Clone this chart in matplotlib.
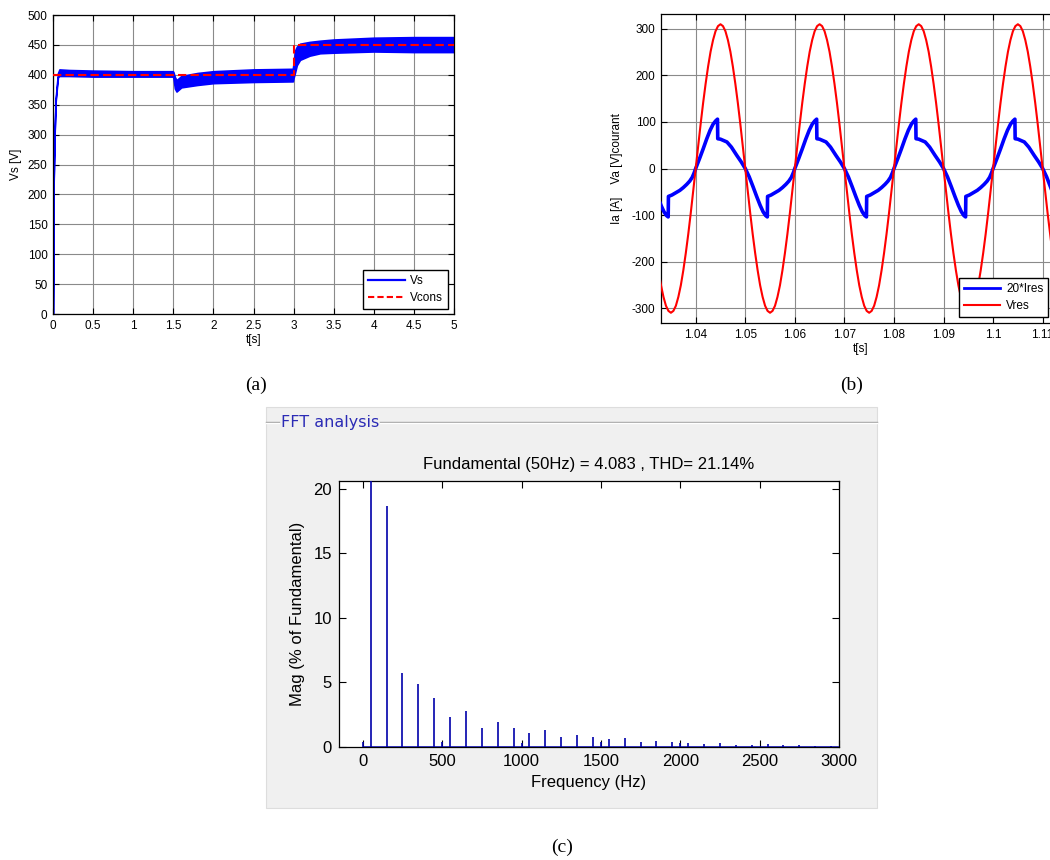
import matplotlib
matplotlib.use('Agg')
import numpy as np
import matplotlib.pyplot as plt
from matplotlib.lines import Line2D
from matplotlib.patches import Rectangle
from matplotlib.ticker import FuncFormatter

plt.rcParams['font.family'] = ['Liberation Sans', 'DejaVu Sans']

# ---- (a) DC bus voltage: envelope of the ripple band
t_vs = [0.0, 0.008, 0.02, 0.033, 0.05, 0.062, 0.08, 0.2, 0.5, 1.0, 1.49, 1.5,
        1.52, 1.54, 1.6, 1.8, 2.0, 2.5, 2.99, 3.0, 3.02, 3.04, 3.08, 3.2,
        3.33, 3.5, 4.0, 4.5, 5.0]
vs_low = [0, 220, 300, 355, 380, 396, 398, 398, 397, 397, 397, 396,
          377, 372, 379, 383, 386, 388, 389, 395, 405, 416, 425, 432,
          436, 437, 439, 438, 438]
vs_high = [0, 225, 305, 360, 386, 403, 409, 408, 407, 406, 406, 405,
           396, 391, 398, 403, 406, 409, 410, 420, 441, 447, 452, 455,
           457, 459, 462, 463, 463]
t_cons = [0, 3, 3, 5]
v_cons = [400, 400, 450, 450]

# ---- (b) one 20 ms period of each waveform (phase in ms from the 1.04 s zero crossing)
vres_phase = np.arange(0, 20, 0.5)
vres_one = [0, 48, 96, 141, 182, 219, 251, 276, 295, 306, 310, 306, 295, 276, 251,
            219, 182, 141, 96, 48, 0, -48, -96, -141, -182, -219, -251, -276, -295,
            -306, -310, -306, -295, -276, -251, -219, -182, -141, -96, -48]
ires_phase = [-5.5, -4.8, -4.0, -3.2, -2.5, -1.8, -1.2, -0.7, -0.3, 0.0, 0.8, 1.5,
              2.2, 2.9, 3.5, 4.0, 4.4, 4.45, 5.0, 6.3, 7.2, 8.3, 9.2, 10.0, 10.8,
              11.6, 12.3, 13.0, 13.6, 14.1, 14.45]
ires_one = [-60, -57, -52, -47, -41, -34, -27, -19, -9, 0, 22, 42,
            63, 82, 95, 102, 106, 64, 63, 57, 46, 28, 14, 0, -18,
            -40, -60, -79, -93, -101, -104]
cycle_starts = [1.02, 1.04, 1.06, 1.08, 1.10]

# ---- (c) FFT spectrum
fft_freq = [0, 50, 150, 250, 350, 450, 500, 550, 650, 750, 850, 950, 1000, 1050,
            1150, 1250, 1350, 1450, 1500, 1550, 1650, 1750, 1850, 1950, 2000,
            2050, 2150, 2250, 2350, 2450, 2550, 2650, 2750, 2850, 2950]
fft_mag = [0.4, 100, 18.7, 5.7, 4.9, 3.8, 0.35, 2.3, 2.8, 1.5, 1.9, 1.5, 0.3, 1.1,
           1.3, 0.8, 0.9, 0.8, 0.36, 0.6, 0.7, 0.4, 0.5, 0.4, 0.33,
           0.3, 0.25, 0.28, 0.18, 0.15, 0.2, 0.15, 0.15, 0.1, 0.1]

W, H = 1050, 860
fig = plt.figure(figsize=(10.5, 8.6), dpi=100)


def box(l, t, r, b):
    return [l / W, 1 - b / H, (r - l) / W, (b - t) / H]


def fx(px):
    return px / W


def fy(py):
    return 1 - py / H


def matlab_style(ax, fs, length=4):
    ax.tick_params(direction='in', top=True, right=True, length=length, width=0.8,
                   labelsize=fs, pad=4)
    for s in ax.spines.values():
        s.set_linewidth(0.9)
    fmt = FuncFormatter(lambda v, p: '%g' % round(v, 6))
    ax.xaxis.set_major_formatter(fmt)
    ax.yaxis.set_major_formatter(fmt)


# (a)
ax_a = fig.add_axes(box(53, 15, 454, 314))
ax_a.fill_between(t_vs, vs_low, vs_high, facecolor='blue', edgecolor='blue', lw=1.2, zorder=2)
ax_a.plot(t_cons, v_cons, color='red', ls='--', lw=1.5, dashes=(4, 2), zorder=3)
ax_a.set_xlim(0, 5)
ax_a.set_ylim(0, 500)
ax_a.set_xticks(np.arange(0, 5.01, 0.5))
ax_a.set_yticks(np.arange(0, 501, 50))
ax_a.grid(True, color='#8a8a8a', lw=0.8)
matlab_style(ax_a, 8.5)
ax_a.set_ylabel('Vs [V]', fontsize=8.5, labelpad=4)
ax_a.set_xlabel('t[s]', fontsize=8.5, labelpad=2)
leg = ax_a.legend([Line2D([], [], color='blue', lw=1.6),
                   Line2D([], [], color='red', ls='--', lw=1.5, dashes=(3, 1.5))],
                  ['Vs', 'Vcons'], loc='lower right', bbox_to_anchor=(fx(448), fy(309)),
                  bbox_transform=fig.transFigure, fancybox=False, edgecolor='black',
                  framealpha=1, fontsize=8.5, handlelength=3.1, handletextpad=0.5,
                  borderaxespad=0, labelspacing=0.45)
leg.get_frame().set_linewidth(1.0)

# (b)
ax_b = fig.add_axes(box(661, 14, 1060, 323))
t_i, v_i, t_r, v_r = [], [], [], []
for c in cycle_starts:
    t_i += [c + p / 1000 for p in ires_phase]
    v_i += ires_one
    t_r += [c + p / 1000 for p in vres_phase]
    v_r += vres_one
ax_b.plot(t_i, v_i, color='blue', lw=2.6, zorder=3)
ax_b.plot(t_r, v_r, color='red', lw=1.5, zorder=3)
ax_b.set_xlim(1.033, 1.1135)
ax_b.set_ylim(-332, 332)
ax_b.set_xticks([1.04, 1.05, 1.06, 1.07, 1.08, 1.09, 1.10, 1.11])
ax_b.set_yticks(np.arange(-300, 301, 100))
ax_b.grid(True, color='#8a8a8a', lw=0.8)
matlab_style(ax_b, 8.5)
ax_b.set_ylabel('Ia [A]    Va [V]courant', fontsize=8.5, labelpad=6)
ax_b.set_xlabel('t[s]', fontsize=8.5, labelpad=2)
leg = ax_b.legend([Line2D([], [], color='blue', lw=2), Line2D([], [], color='red', lw=1.5)],
                  ['20*Ires', 'Vres'], loc='lower right', bbox_to_anchor=(fx(1048), fy(317)),
                  bbox_transform=fig.transFigure, fancybox=False, edgecolor='black',
                  framealpha=1, fontsize=8.5, handlelength=3.1, handletextpad=0.5,
                  borderaxespad=0, labelspacing=0.45)
leg.get_frame().set_linewidth(1.0)

# (c) grey panel with group box
fig.add_artist(Rectangle((fx(266), fy(808)), (877 - 266) / W, (808 - 407) / H,
                         transform=fig.transFigure, facecolor='#f0f0f0',
                         edgecolor='#dddddd', lw=0.8, zorder=0))
for x0, x1 in [(266, 279), (380, 877)]:
    fig.add_artist(Line2D([fx(x0), fx(x1)], [fy(422), fy(422)], color='#a0a0a0', lw=1,
                          transform=fig.transFigure))
    fig.add_artist(Line2D([fx(x0), fx(x1)], [fy(423.2), fy(423.2)], color='white', lw=1,
                          transform=fig.transFigure))
fig.text(fx(281), fy(422), 'FFT analysis', color='#2b2bb5', fontsize=11.5,
         family='DejaVu Sans', ha='left', va='center')

ax_c = fig.add_axes(box(339, 481, 839, 747))
ax_c.vlines(fft_freq, 0, fft_mag, color='#0000aa', lw=1.2, zorder=3)
ax_c.hlines(0, fft_freq[0], fft_freq[-1] + 50, color='#0000aa', lw=1.8, zorder=3)
ax_c.set_xlim(-150, 3000)
ax_c.set_ylim(0, 20.6)
ax_c.set_xticks(np.arange(0, 3001, 500))
ax_c.set_yticks([0, 5, 10, 15, 20])
matlab_style(ax_c, 12, length=5)
ax_c.tick_params(pad=5)
ax_c.set_title('Fundamental (50Hz) = 4.083 , THD= 21.14%', fontsize=12, pad=9)
ax_c.set_xlabel('Frequency (Hz)', fontsize=12, labelpad=4)
ax_c.set_ylabel('Mag (% of Fundamental)', fontsize=12, labelpad=6)

# panel letters
for x, lab in [(256, '(a)'), (852, '(b)'), (562, '(c)')]:
    y = 847 if lab == '(c)' else 385
    fig.text(fx(x), fy(y), lab, family='Liberation Serif', fontsize=14,
             ha='center', va='center')

fig.savefig('out.png', dpi=100)
